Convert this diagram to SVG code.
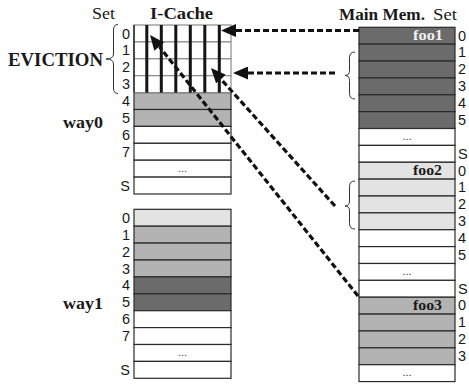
<svg xmlns="http://www.w3.org/2000/svg" width="469" height="387" viewBox="0 0 469 387">
<defs>
<style>
.row{stroke:#2a2a2a;stroke-width:1.2}
.grid{stroke:#8c8c8c;stroke-width:1.2}
.w{fill:#ffffff}
.l{fill:#e3e3e3}
.m{fill:#b3b3b3}
.d{fill:#6b6b6b}
.bar{fill:#151515}
.num{font-family:"Liberation Sans",Arial,sans-serif;font-size:14.5px;fill:#1a1a1a}
.numr{font-family:"Liberation Sans",Arial,sans-serif;font-size:14.5px;fill:#1a1a1a;text-anchor:end}
.dots{font-family:"Liberation Sans",Arial,sans-serif;font-size:11px;fill:#333;text-anchor:middle}
.ser{font-family:"Liberation Serif","Times New Roman",serif;font-size:17px;fill:#1a1a1a}
.bold{font-family:"Liberation Serif","Times New Roman",serif;font-size:17px;font-weight:bold;fill:#1a1a1a}
.foo{font-family:"Liberation Serif","Times New Roman",serif;font-size:15px;font-weight:bold;text-anchor:end}
.brace{fill:none;stroke:#333;stroke-width:1}
.arr{fill:none;stroke:#111;stroke-width:3.2;stroke-dasharray:6 3}
</style>
<marker id="ah" viewBox="0 0 15 13" refX="0" refY="6.5" markerWidth="15" markerHeight="13" markerUnits="userSpaceOnUse" orient="auto">
<path d="M0,0 L15,6.5 L0,13 z" fill="#111"/>
</marker>
</defs>
<rect width="469" height="387" fill="#ffffff"/>

<g id="headers">
<text class="ser" x="92" y="18.5" textLength="23" lengthAdjust="spacingAndGlyphs">Set</text>
<text class="bold" x="150" y="18.5" textLength="63" lengthAdjust="spacingAndGlyphs">I-Cache</text>
<text class="bold" x="339" y="19.5" textLength="86" lengthAdjust="spacingAndGlyphs">Main Mem.</text>
<text class="ser" x="433" y="19.5" textLength="24" lengthAdjust="spacingAndGlyphs">Set</text>
</g>

<g id="way0">
<text class="bold" x="63" y="128" textLength="40" lengthAdjust="spacingAndGlyphs">way0</text>
<rect class="m row" x="134" y="92.6" width="97" height="16.9"/>
<rect class="m row" x="134" y="109.5" width="97" height="16.9"/>
<rect class="w row" x="134" y="126.4" width="97" height="16.9"/>
<rect class="w row" x="134" y="143.3" width="97" height="16.9"/>
<rect class="w row" x="134" y="160.2" width="97" height="16.9"/>
<rect class="w row" x="134" y="177.1" width="97" height="16.9"/>
<rect class="w grid" x="134" y="25" width="97" height="16.9"/>
<rect class="w grid" x="134" y="41.9" width="97" height="16.9"/>
<rect class="w grid" x="134" y="58.8" width="97" height="16.9"/>
<rect class="w grid" x="134" y="75.7" width="97" height="16.9"/>
<line x1="134" y1="25" x2="134" y2="92.6" stroke="#1a1a1a" stroke-width="1.4"/>
<rect class="bar" x="145.3" y="25" width="3" height="67.6"/>
<rect class="bar" x="159.8" y="25" width="3" height="67.6"/>
<rect class="bar" x="174.3" y="25" width="3" height="67.6"/>
<rect class="bar" x="188.8" y="25" width="3" height="67.6"/>
<rect class="bar" x="203.3" y="25" width="3" height="67.6"/>
<rect class="bar" x="217.8" y="25" width="3" height="67.6"/>
<text class="dots" x="182.5" y="172">...</text>
<text class="numr" x="130" y="38.5">0</text>
<text class="numr" x="130" y="55.4">1</text>
<text class="numr" x="130" y="72.3">2</text>
<text class="numr" x="130" y="89.2">3</text>
<text class="numr" x="130" y="106.1">4</text>
<text class="numr" x="130" y="123">5</text>
<text class="numr" x="130" y="139.9">6</text>
<text class="numr" x="130" y="156.8">7</text>
<text class="numr" x="130" y="190.6">S</text>
</g>

<g id="eviction">
<text class="bold" x="8" y="66" style="font-size:19px" textLength="95" lengthAdjust="spacingAndGlyphs">EVICTION</text>
<path class="brace" d="M118,24.5 Q113.5,24.5 113.5,30 L113.5,54 Q113.5,59 106,59 Q113.5,59 113.5,64 L113.5,88 Q113.5,93.5 118,93.5"/>
</g>

<g id="way1">
<text class="bold" x="63" y="309" textLength="40" lengthAdjust="spacingAndGlyphs">way1</text>
<rect class="l row" x="134" y="209.3" width="97" height="16.9"/>
<rect class="m row" x="134" y="226.2" width="97" height="16.9"/>
<rect class="m row" x="134" y="243.1" width="97" height="16.9"/>
<rect class="m row" x="134" y="260" width="97" height="16.9"/>
<rect class="d row" x="134" y="276.9" width="97" height="16.9"/>
<rect class="d row" x="134" y="293.8" width="97" height="16.9"/>
<rect class="w row" x="134" y="310.7" width="97" height="16.9"/>
<rect class="w row" x="134" y="327.6" width="97" height="16.9"/>
<rect class="w row" x="134" y="344.5" width="97" height="16.9"/>
<rect class="w row" x="134" y="361.4" width="97" height="16.9"/>
<text class="dots" x="182.5" y="356">...</text>
<text class="numr" x="130" y="222.8">0</text>
<text class="numr" x="130" y="239.7">1</text>
<text class="numr" x="130" y="256.6">2</text>
<text class="numr" x="130" y="273.5">3</text>
<text class="numr" x="130" y="290.4">4</text>
<text class="numr" x="130" y="307.3">5</text>
<text class="numr" x="130" y="324.2">6</text>
<text class="numr" x="130" y="341.1">7</text>
<text class="numr" x="130" y="374.9">S</text>
</g>

<g id="mainmem">
<rect class="d row" x="359" y="27.3" width="96" height="16.87"/>
<rect class="d row" x="359" y="44.17" width="96" height="16.87"/>
<rect class="d row" x="359" y="61.04" width="96" height="16.87"/>
<rect class="d row" x="359" y="77.91" width="96" height="16.87"/>
<rect class="d row" x="359" y="94.78" width="96" height="16.87"/>
<rect class="d row" x="359" y="111.65" width="96" height="16.87"/>
<rect class="w row" x="359" y="128.52" width="96" height="16.87"/>
<rect class="w row" x="359" y="145.39" width="96" height="16.87"/>
<rect class="l row" x="359" y="162.26" width="96" height="16.87"/>
<rect class="l row" x="359" y="179.13" width="96" height="16.87"/>
<rect class="l row" x="359" y="196" width="96" height="16.87"/>
<rect class="l row" x="359" y="212.87" width="96" height="16.87"/>
<rect class="w row" x="359" y="229.74" width="96" height="16.87"/>
<rect class="w row" x="359" y="246.61" width="96" height="16.87"/>
<rect class="w row" x="359" y="263.48" width="96" height="16.87"/>
<rect class="w row" x="359" y="280.35" width="96" height="16.87"/>
<rect class="m row" x="359" y="297.22" width="96" height="16.87"/>
<rect class="m row" x="359" y="314.09" width="96" height="16.87"/>
<rect class="m row" x="359" y="330.96" width="96" height="16.87"/>
<rect class="m row" x="359" y="347.83" width="96" height="16.87"/>
<rect class="w row" x="359" y="364.7" width="96" height="16.87"/>
<text class="foo" x="443" y="40" fill="#f2f2f2" textLength="30" lengthAdjust="spacingAndGlyphs">foo1</text>
<text class="foo" x="442" y="175" fill="#1a1a1a" textLength="29" lengthAdjust="spacingAndGlyphs">foo2</text>
<text class="foo" x="442" y="310" fill="#1a1a1a" textLength="29" lengthAdjust="spacingAndGlyphs">foo3</text>
<text class="dots" x="407" y="140">...</text>
<text class="dots" x="407" y="275">...</text>
<text class="dots" x="407" y="376">...</text>
<text class="num" x="458" y="40.5">0</text>
<text class="num" x="458" y="57.4">1</text>
<text class="num" x="458" y="74.3">2</text>
<text class="num" x="458" y="91.1">3</text>
<text class="num" x="458" y="108">4</text>
<text class="num" x="458" y="124.9">5</text>
<text class="num" x="458" y="158.6">S</text>
<text class="num" x="458" y="175.5">0</text>
<text class="num" x="458" y="192.3">1</text>
<text class="num" x="458" y="209.2">2</text>
<text class="num" x="458" y="226.1">3</text>
<text class="num" x="458" y="242.9">4</text>
<text class="num" x="458" y="259.8">5</text>
<text class="num" x="458" y="293.6">S</text>
<text class="num" x="458" y="310.4">0</text>
<text class="num" x="458" y="327.3">1</text>
<text class="num" x="458" y="344.2">2</text>
<text class="num" x="458" y="361">3</text>
<path class="brace" d="M355,52 Q349.5,52 349.5,57.5 L349.5,70.5 Q349.5,75.5 345,75.5 Q349.5,75.5 349.5,80.5 L349.5,93.5 Q349.5,99 355,99"/>
<path class="brace" d="M355,181 Q349.5,181 349.5,186.5 L349.5,201 Q349.5,206 345,206 Q349.5,206 349.5,211 L349.5,223.5 Q349.5,229 355,229"/>
</g>

<g id="connectors">
<line class="arr" x1="359" y1="30.5" x2="236" y2="30.5" marker-end="url(#ah)"/>
<line class="arr" x1="335" y1="73" x2="248" y2="73" marker-end="url(#ah)"/>
<line class="arr" x1="335" y1="206" x2="221" y2="79.2" marker-end="url(#ah)"/>
<line class="arr" x1="358" y1="296" x2="159.4" y2="46.7" marker-end="url(#ah)"/>
</g>
</svg>
